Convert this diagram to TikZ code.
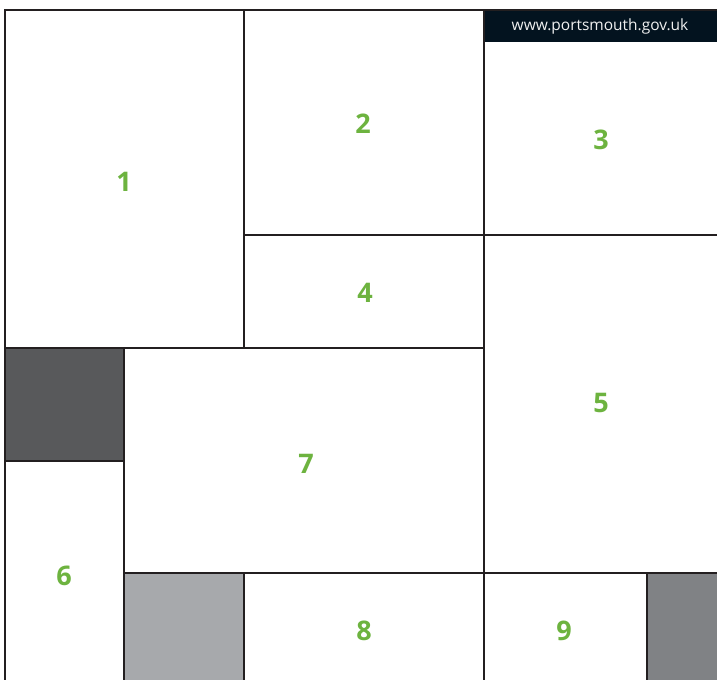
\documentclass[tikz,border=0pt]{standalone}
\usepackage{fontspec}
\setmainfont{Open Sans}
\definecolor{numgreen}{HTML}{6DB33F}
\definecolor{linecol}{HTML}{231F20}
\definecolor{headbg}{HTML}{03131F}
\definecolor{darkgray}{HTML}{58595B}
\definecolor{lightgray}{HTML}{A7A9AC}
\definecolor{midgray}{HTML}{808285}
\begin{document}
\begin{tikzpicture}[x=1pt,y=-1pt,
  cell/.style={draw=linecol,line width=1.4pt},
  num/.style={text=numgreen,font=\fontsize{27}{30}\selectfont\bfseries,inner sep=0pt},
  urltext/.style={text=white!88!gray,font=\fontsize{15.5}{17}\selectfont,inner sep=0pt}]
\useasboundingbox (0,0) rectangle (717,680);
\fill[white] (0,0) rectangle (717,680);
% gray fills
\fill[darkgray] (5,348) rectangle (124,461);
\fill[lightgray] (124,573) rectangle (244,680);
\fill[midgray] (647,573) rectangle (717,680);
\fill[headbg] (484,10) rectangle (717,42);
% grid lines
\draw[cell] (717,10) -- (5,10) -- (5,680);
\draw[cell] (244,10) -- (244,348);
\draw[cell] (484,10) -- (484,680);
\draw[cell] (244,235) -- (717,235);
\draw[cell] (5,348) -- (484,348);
\draw[cell] (5,461) -- (124,461);
\draw[cell] (124,348) -- (124,680);
\draw[cell] (124,573) -- (717,573);
\draw[cell] (244,573) -- (244,680);
\draw[cell] (647,573) -- (647,680);
% labels
\node[urltext] (url) at (600,26) {www.portsmouth.gov.uk};
\node[num] (n1) at (124,182) {1};
\node[num] (n2) at (363,124) {2};
\node[num] (n3) at (601,140) {3};
\node[num] (n4) at (365,293) {4};
\node[num] (n5) at (601,403) {5};
\node[num] (n6) at (64,576) {6};
\node[num] (n7) at (306,464) {7};
\node[num] (n8) at (364,631) {8};
\node[num] (n9) at (564,631) {9};
\end{tikzpicture}
\end{document}
